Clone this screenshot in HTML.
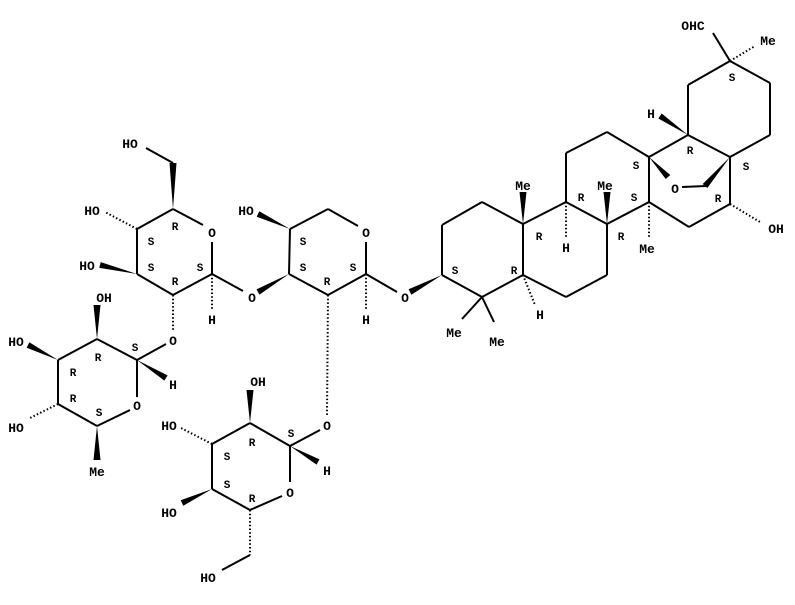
<!DOCTYPE html>
<html><head><meta charset="utf-8"><style>
html,body{margin:0;padding:0;background:#fff;}
svg{display:block;}
text{font-family:"Liberation Mono","DejaVu Sans Mono",monospace;font-weight:bold;fill:#000;text-anchor:middle;}
.a{font-size:13px;}
.s{font-size:11px;}
line{stroke:#000;stroke-width:2;}
.h{stroke-width:2;stroke-dasharray:1.5 2.2;}
</style></head><body>
<svg width="795" height="605" viewBox="0 0 795 605" xmlns="http://www.w3.org/2000/svg">
<!-- Glucose top -->
<line x1="173" y1="209" x2="203" y2="225"/>
<line x1="212" y1="242" x2="212" y2="274"/>
<line x1="212" y1="274" x2="173" y2="295"/>
<line x1="173" y1="295" x2="137" y2="274"/>
<line x1="137" y1="274" x2="137" y2="229"/>
<line x1="137" y1="229" x2="173" y2="209"/>
<line x1="173" y1="163" x2="146" y2="148"/>
<line x1="212" y1="274" x2="243" y2="291"/>
<polygon points="173,209 169.5,163 176.5,163"/>
<polygon points="137,274 100.7,262.1 99.3,267.9"/>
<line class="h" x1="137" y1="229" x2="105" y2="212"/>
<line class="h" x1="212" y1="274" x2="212" y2="310"/>
<line class="h" x1="173" y1="295" x2="173" y2="332"/>
<text class="a" x="130" y="148">HO</text>
<text class="a" x="92" y="215">HO</text>
<text class="a" x="87" y="270">HO</text>
<text class="a" x="212" y="237">O</text>
<text class="a" x="212" y="324">H</text>
<text class="a" x="252" y="302">O</text>
<text class="a" x="173" y="345">O</text>
<text class="s" x="175" y="230">R</text>
<text class="s" x="151" y="245">S</text>
<text class="s" x="151" y="271">S</text>
<text class="s" x="175" y="285">R</text>
<text class="s" x="200" y="271">S</text>
<!-- Xylose -->
<line x1="290" y1="229" x2="328" y2="209"/>
<line x1="328" y1="209" x2="358" y2="226"/>
<line x1="366" y1="242" x2="366" y2="274"/>
<line x1="366" y1="274" x2="328" y2="295"/>
<line x1="328" y1="295" x2="289" y2="274"/>
<line x1="289" y1="274" x2="290" y2="229"/>
<line x1="366" y1="274" x2="397" y2="292"/>
<polygon points="290,229 259.3,211.3 256.7,216.7"/>
<polygon points="289,274 256.5,289.4 259.5,294.6"/>
<line class="h" x1="366" y1="274" x2="366" y2="310"/>
<line class="h" x1="328" y1="295" x2="327" y2="415"/>
<text class="a" x="246" y="215">HO</text>
<text class="a" x="366" y="237">O</text>
<text class="a" x="366" y="324">H</text>
<text class="s" x="303" y="245">S</text>
<text class="s" x="303" y="271">S</text>
<text class="s" x="327" y="285">R</text>
<text class="s" x="353" y="271">S</text>
<!-- Lower glucose -->
<line x1="290" y1="446" x2="290" y2="482"/>
<line x1="282" y1="496" x2="250" y2="510"/>
<line x1="250" y1="510" x2="212" y2="489"/>
<line x1="212" y1="489" x2="212" y2="444"/>
<line x1="212" y1="444" x2="250" y2="423"/>
<line x1="250" y1="423" x2="290" y2="446"/>
<line x1="290" y1="446" x2="320" y2="430"/>
<line x1="250" y1="555" x2="222" y2="570"/>
<polygon points="250,423 246.5,390 253.5,390"/>
<polygon points="212,489 180.7,500.3 183.3,505.7"/>
<polygon points="290,446 316.5,464.6 319.5,459.4"/>
<line class="h" x1="212" y1="444" x2="181" y2="428"/>
<line class="h" x1="250" y1="510" x2="250" y2="555"/>
<text class="a" x="327" y="430">O</text>
<text class="a" x="258" y="386">OH</text>
<text class="a" x="169" y="430">HO</text>
<text class="a" x="169" y="517">HO</text>
<text class="a" x="290" y="497">O</text>
<text class="a" x="327" y="475">H</text>
<text class="a" x="208" y="582">HO</text>
<text class="s" x="291" y="437">S</text>
<text class="s" x="252" y="446">R</text>
<text class="s" x="227" y="460">S</text>
<text class="s" x="227" y="488">S</text>
<text class="s" x="252" y="502">R</text>
<!-- Rhamnose -->
<line x1="137" y1="360" x2="137" y2="397"/>
<line x1="130" y1="410" x2="97" y2="426"/>
<line x1="97" y1="426" x2="58" y2="404"/>
<line x1="58" y1="404" x2="58" y2="360"/>
<line x1="58" y1="360" x2="97" y2="339"/>
<line x1="97" y1="339" x2="137" y2="360"/>
<line x1="137" y1="360" x2="166" y2="344"/>
<polygon points="97,339 93.5,305 100.5,305"/>
<polygon points="58,360 29.3,342.3 26.7,347.7"/>
<polygon points="97,426 93.5,460 100.5,460"/>
<polygon points="137,360 164.4,380.6 167.6,375.4"/>
<line class="h" x1="58" y1="404" x2="30" y2="418"/>
<text class="a" x="104" y="302">OH</text>
<text class="a" x="16" y="346">HO</text>
<text class="a" x="16" y="432">HO</text>
<text class="a" x="137" y="410">O</text>
<text class="a" x="173" y="389">H</text>
<text class="a" x="97" y="476">Me</text>
<text class="s" x="135" y="351">S</text>
<text class="s" x="98" y="361">R</text>
<text class="s" x="73" y="376">R</text>
<text class="s" x="73" y="402">R</text>
<text class="s" x="99" y="416">S</text>
<!-- Aglycone -->
<text class="a" x="405" y="302">O</text>
<polygon points="442,275 408.6,289.3 411.4,294.7"/>
<line x1="442" y1="275" x2="482" y2="297"/>
<line x1="482" y1="297" x2="523" y2="275"/>
<line x1="523" y1="275" x2="523" y2="224"/>
<line x1="523" y1="224" x2="482" y2="202"/>
<line x1="482" y1="202" x2="442" y2="225"/>
<line x1="442" y1="225" x2="442" y2="275"/>
<line x1="482" y1="297" x2="462" y2="319"/>
<line x1="482" y1="297" x2="494" y2="322"/>
<line class="h" x1="523" y1="275" x2="535" y2="305"/>
<polygon points="523,224 519.5,192 526.5,192"/>
<line x1="523" y1="224" x2="566" y2="202"/>
<line x1="523" y1="275" x2="566" y2="297"/>
<line x1="566" y1="297" x2="607" y2="275"/>
<line x1="607" y1="275" x2="607" y2="224"/>
<line x1="607" y1="224" x2="566" y2="202"/>
<line class="h" x1="566" y1="202" x2="566" y2="238"/>
<polygon points="607,224 603.5,192 610.5,192"/>
<line x1="566" y1="202" x2="566" y2="153"/>
<line x1="566" y1="153" x2="607" y2="132"/>
<line x1="607" y1="132" x2="649" y2="157"/>
<line x1="649" y1="157" x2="649" y2="202"/>
<line x1="649" y1="202" x2="607" y2="224"/>
<line class="h" x1="649" y1="202" x2="649" y2="238"/>
<line x1="649" y1="202" x2="689" y2="227"/>
<line x1="689" y1="227" x2="730" y2="204"/>
<line class="h" x1="730" y1="204" x2="760" y2="222"/>
<line x1="730" y1="204" x2="730" y2="157"/>
<line x1="730" y1="157" x2="688" y2="135"/>
<line x1="688" y1="135" x2="649" y2="157"/>
<line x1="688" y1="135" x2="688" y2="85"/>
<line x1="688" y1="85" x2="730" y2="61"/>
<line x1="730" y1="61" x2="770" y2="83"/>
<line x1="770" y1="83" x2="770" y2="135"/>
<line x1="770" y1="135" x2="730" y2="157"/>
<line x1="730" y1="61" x2="713" y2="33"/>
<line class="h" x1="730" y1="61" x2="755" y2="46"/>
<polygon points="688,135 661.7,113.5 658.3,118.5"/>
<polygon points="649,157 665.7,179 670.3,175"/>
<polygon points="730,157 702.7,184 707.3,188"/>
<line x1="682" y1="187" x2="706" y2="186"/>
<text class="a" x="454" y="337">Me</text>
<text class="a" x="497" y="346">Me</text>
<text class="a" x="540" y="319">H</text>
<text class="a" x="523" y="190">Me</text>
<text class="a" x="566" y="252">H</text>
<text class="a" x="605" y="190">Me</text>
<text class="a" x="647" y="253">Me</text>
<text class="a" x="776" y="233">OH</text>
<text class="a" x="675" y="193">O</text>
<text class="a" x="651" y="118">H</text>
<text class="a" x="693" y="30">OHC</text>
<text class="a" x="768" y="45">Me</text>
<text class="s" x="455" y="274">S</text>
<text class="s" x="514" y="274">R</text>
<text class="s" x="539" y="240">R</text>
<text class="s" x="581" y="201">R</text>
<text class="s" x="621" y="240">R</text>
<text class="s" x="634" y="201">S</text>
<text class="s" x="636" y="169">S</text>
<text class="s" x="690" y="154">R</text>
<text class="s" x="746" y="170">S</text>
<text class="s" x="718" y="202">R</text>
<text class="s" x="732" y="81">S</text>
</svg>
</body></html>
